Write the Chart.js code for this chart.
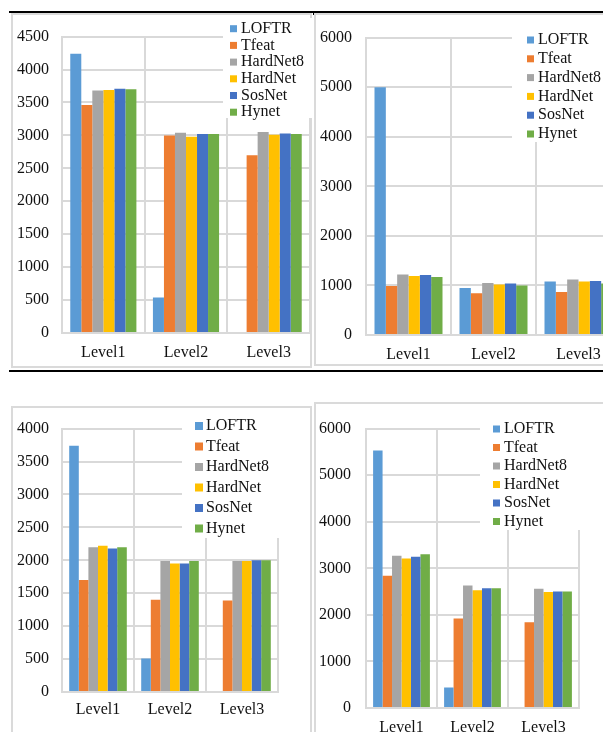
<!DOCTYPE html>
<html>
<head>
<meta charset="utf-8">
<script src="https://cdn.jsdelivr.net/npm/chart.js@4.4.1/dist/chart.umd.min.js"></script>
<style>
  html, body { margin: 0; padding: 0; width: 603px; height: 732px; overflow: hidden; background: #fff; }
  .rule { position: absolute; background: #000; }
  .panel { position: absolute; border: 2px solid #dadada; box-sizing: border-box; }
  canvas { position: absolute; }
</style>
</head>
<body>
<div class="rule" style="left:9px;top:11px;width:594px;height:1.5px"></div>
<div class="rule" style="left:313px;top:12px;width:1px;height:3px"></div>
<div class="rule" style="left:9px;top:370px;width:594px;height:2px"></div>

<div class="panel" style="left:11px;top:13px;width:301px;height:355px"></div>
<div class="panel" style="left:314px;top:13px;width:300px;height:353px"></div>
<div class="panel" style="left:11px;top:406px;width:301px;height:400px"></div>
<div class="panel" style="left:314px;top:402px;width:300px;height:400px"></div>

<canvas id="tl" width="299" height="352" style="left:13px;top:14px"></canvas>
<canvas id="tr" width="310" height="352" style="left:316px;top:14px"></canvas>
<canvas id="bl" width="297" height="330" style="left:13px;top:406px"></canvas>
<canvas id="br" width="300" height="340" style="left:316px;top:404px"></canvas>

<script>
// Categories and series names
const levels = ['Level1', 'Level2', 'Level3'];
const methods = ['LOFTR', 'Tfeat', 'HardNet8', 'HardNet', 'SosNet', 'Hynet'];

// Top-left chart
const tlLOFTR    = [4240, 540, 15];
const tlTfeat    = [3460, 3000, 2700];
const tlHardNet8 = [3680, 3040, 3050];
const tlHardNet  = [3690, 2980, 3010];
const tlSosNet   = [3710, 3020, 3030];
const tlHynet    = [3700, 3020, 3020];
const tlTicks    = [0, 500, 1000, 1500, 2000, 2500, 3000, 3500, 4000, 4500];

// Top-right chart
const trLOFTR    = [5000, 950, 1080];
const trTfeat    = [990, 840, 870];
const trHardNet8 = [1220, 1050, 1120];
const trHardNet  = [1190, 1020, 1080];
const trSosNet   = [1210, 1040, 1090];
const trHynet    = [1170, 1000, 1040];
const trTicks    = [0, 1000, 2000, 3000, 4000, 5000, 6000];

// Bottom-left chart
const blLOFTR    = [3740, 510, 15];
const blTfeat    = [1700, 1400, 1390];
const blHardNet8 = [2200, 1990, 1990];
const blHardNet  = [2220, 1950, 1990];
const blSosNet   = [2180, 1950, 2000];
const blHynet    = [2200, 1990, 2000];
const blTicks    = [0, 500, 1000, 1500, 2000, 2500, 3000, 3500, 4000];

// Bottom-right chart
const brLOFTR    = [5530, 440, 0];
const brTfeat    = [2840, 1920, 1840];
const brHardNet8 = [3270, 2630, 2560];
const brHardNet  = [3210, 2530, 2490];
const brSosNet   = [3250, 2570, 2500];
const brHynet    = [3300, 2570, 2500];
const brTicks    = [0, 1000, 2000, 3000, 4000, 5000, 6000];

const palette = ['#5B9BD5', '#ED7D31', '#A5A5A5', '#FFC000', '#4472C4', '#70AD47'];
const FONT = { family: '"Liberation Serif", "Times New Roman", serif', size: 16 };
const TEXT = '#111';
const GRID = '#d9d9d9';

// Legend drawn inside the plot on a white backing box
const insetLegend = {
  id: 'insetLegend',
  afterDatasetsDraw(chart, args, o) {
    const ctx = chart.ctx;
    ctx.save();
    ctx.fillStyle = '#fff';
    ctx.fillRect(o.box[0], o.box[1], o.box[2], o.box[3]);
    ctx.font = FONT.size + 'px ' + FONT.family;
    ctx.textBaseline = 'middle';
    ctx.textAlign = 'left';
    chart.data.datasets.forEach((ds, i) => {
      const cy = o.y0 + i * o.step;
      ctx.fillStyle = ds.backgroundColor;
      ctx.fillRect(o.swatchX, cy - o.size / 2 + 1, o.size, o.size);
      ctx.fillStyle = TEXT;
      ctx.fillText(ds.label, o.textX, cy + 1);
    });
    ctx.restore();
  }
};

function makeChart(id, series, ticks, geo, legendGeo) {
  new Chart(document.getElementById(id), {
    type: 'bar',
    data: {
      labels: levels,
      datasets: methods.map((m, i) => ({
        label: m,
        data: series[i],
        backgroundColor: palette[i],
        borderWidth: 0,
        categoryPercentage: 0.8,
        barPercentage: 1.0
      }))
    },
    options: {
      responsive: false,
      animation: false,
      devicePixelRatio: 1,
      layout: { padding: { top: geo.top, right: geo.right, left: 0, bottom: 0 } },
      plugins: { legend: { display: false }, tooltip: { enabled: false }, insetLegend: legendGeo },
      scales: {
        x: {
          grid: { color: GRID, lineWidth: 2, drawTicks: false, offset: true },
          border: { color: GRID, width: 2 },
          ticks: { font: FONT, color: TEXT, padding: geo.xPad, maxRotation: 0, autoSkip: false },
          afterFit(s) { s.height = geo.xH; }
        },
        y: {
          min: ticks[0],
          max: ticks[ticks.length - 1],
          grid: { color: GRID, lineWidth: 2, drawTicks: false },
          border: { color: GRID, width: 2 },
          ticks: {
            stepSize: ticks[1] - ticks[0],
            font: FONT, color: TEXT, padding: geo.yPad,
            callback: v => String(v)
          },
          afterFit(s) { s.width = geo.yW; }
        }
      }
    },
    plugins: [insetLegend]
  });
}

makeChart('tl', [tlLOFTR, tlTfeat, tlHardNet8, tlHardNet, tlSosNet, tlHynet], tlTicks,
  { top: 15, right: 2, yW: 49, xH: 33, yPad: 13, xPad: 10 },
  { box: [210, 4, 89, 100], swatchX: 217, textX: 228, y0: 13.7, step: 16.7, size: 7 });

makeChart('tr', [trLOFTR, trTfeat, trHardNet8, trHardNet, trSosNet, trHynet], trTicks,
  { top: 15, right: 5, yW: 50, xH: 31, yPad: 14, xPad: 10 },
  { box: [196, 10, 114, 118], swatchX: 211, textX: 222, y0: 25, step: 18.8, size: 7 });

makeChart('bl', [blLOFTR, blTfeat, blHardNet8, blHardNet, blSosNet, blHynet], blTicks,
  { top: 12, right: 32, yW: 49, xH: 44, yPad: 13, xPad: 8 },
  { box: [169, 4, 103, 128], swatchX: 182, textX: 193, y0: 19, step: 20.5, size: 8 });

makeChart('br', [brLOFTR, brTfeat, brHardNet8, brHardNet, brSosNet, brHynet], brTicks,
  { top: 14, right: 37, yW: 50, xH: 36, yPad: 15, xPad: 10 },
  { box: [164, 16, 102, 110], swatchX: 177, textX: 188, y0: 24, step: 18.5, size: 7 });
</script>
</body>
</html>
